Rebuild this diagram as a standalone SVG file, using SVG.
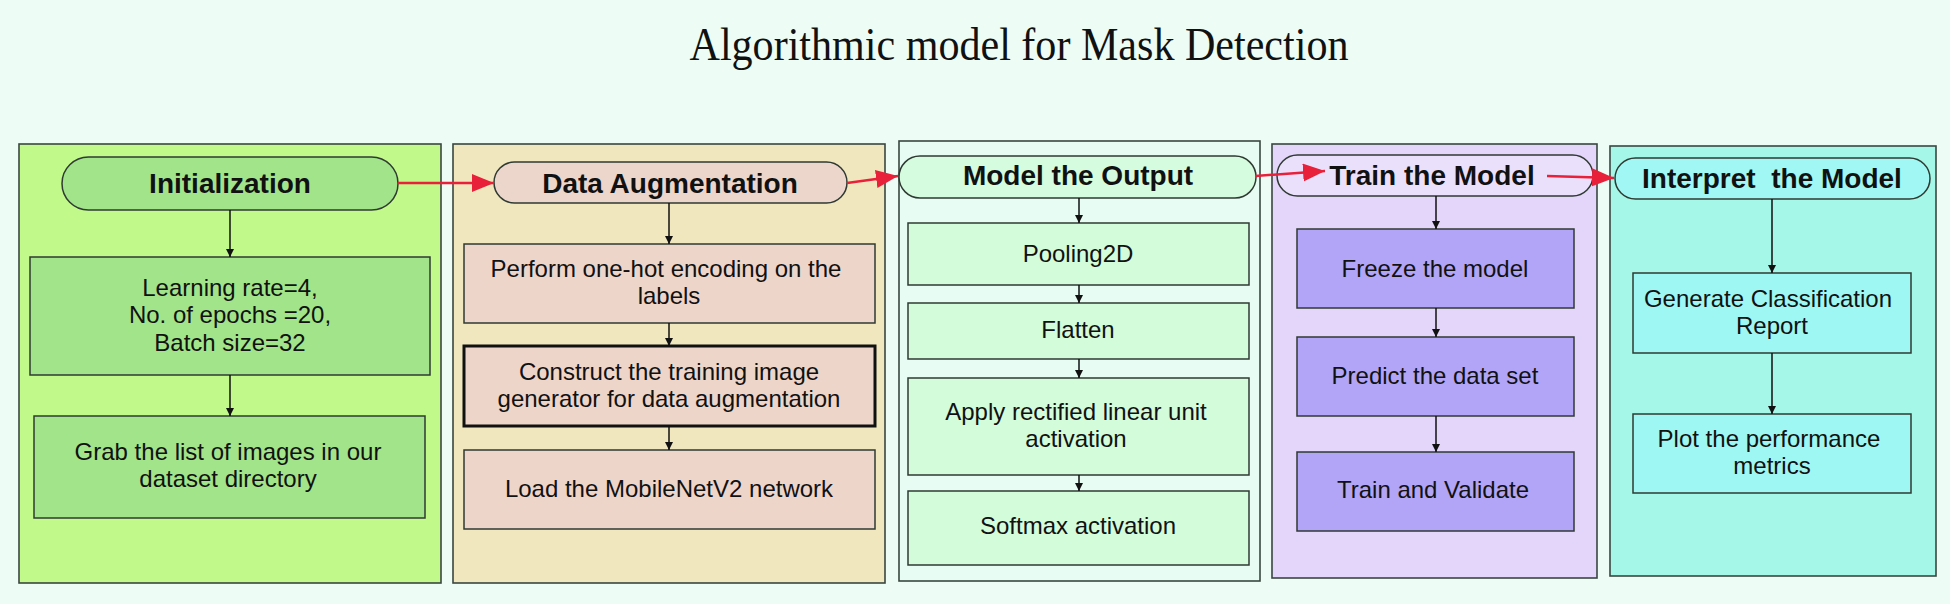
<svg xmlns="http://www.w3.org/2000/svg" width="1950" height="604" viewBox="0 0 1950 604">
<defs>
<marker id="ah" markerUnits="userSpaceOnUse" markerWidth="9" markerHeight="8" refX="8" refY="4" orient="auto"><path d="M0,0 L8,4 L0,8 z" fill="#111"/></marker>
<marker id="rh" markerUnits="userSpaceOnUse" markerWidth="24" markerHeight="20" refX="22" refY="9" orient="auto"><path d="M0,0 L22,9 L0,18 z" fill="#e8203a"/></marker>
<style>
.panel{stroke:#3a4640;stroke-width:1.6}
.pill,.box{stroke:#2f3a33;stroke-width:1.5}
.hd{font-family:"Liberation Sans",Arial,sans-serif;font-weight:bold;font-size:28px;fill:#111;text-anchor:middle}
.tx{font-family:"Liberation Sans",Arial,sans-serif;font-size:24px;fill:#111;text-anchor:middle}
.ar{stroke:#111;stroke-width:1.5;fill:none;marker-end:url(#ah)}
.ra{stroke:#e8203a;stroke-width:2.5;fill:none;marker-end:url(#rh)}
</style>
</defs>
<rect x="0" y="0" width="1950" height="604" fill="#edfdf6"/>
<text x="1019" y="60" font-family="Liberation Serif,'Times New Roman',serif" font-size="46" fill="#111" text-anchor="middle" textLength="659" lengthAdjust="spacingAndGlyphs">Algorithmic model for Mask Detection</text>

<g id="panel-init">
<rect class="panel" x="19" y="144" width="422" height="439" fill="#c1f98a"/>
<g id="init-head"><rect class="pill" x="62" y="157" width="336" height="53" rx="26.5" fill="#a2e48a"/><text class="hd" x="230" y="193">Initialization</text></g>
<g id="init-params"><rect class="box" x="30" y="257" width="400" height="118" fill="#a2e48a"/><text class="tx" x="230" y="296">Learning rate=4,</text><text class="tx" x="230" y="323">No. of epochs =20,</text><text class="tx" x="230" y="351">Batch size=32</text></g>
<g id="init-grab"><rect class="box" x="34" y="416" width="391" height="102" fill="#a2e48a"/><text class="tx" x="228" y="460">Grab the list of images in our</text><text class="tx" x="228" y="487">dataset directory</text></g>
</g>

<g id="panel-aug">
<rect class="panel" x="453" y="144" width="432" height="439" fill="#f1e7be"/>
<g id="aug-head"><rect class="pill" x="494" y="162" width="353" height="41" rx="20.5" fill="#ecd6cb"/><text class="hd" x="670" y="193">Data Augmentation</text></g>
<g id="aug-onehot"><rect class="box" x="464" y="244" width="411" height="79" fill="#eed5ca"/><text class="tx" x="666" y="277">Perform one-hot encoding on the</text><text class="tx" x="669" y="304">labels</text></g>
<g id="aug-gen"><rect x="464" y="346" width="411" height="80" fill="#eed5ca" stroke="#111" stroke-width="3"/><text class="tx" x="669" y="380">Construct the training image</text><text class="tx" x="669" y="407">generator for data augmentation</text></g>
<g id="aug-load"><rect class="box" x="464" y="450" width="411" height="79" fill="#eed5ca"/><text class="tx" x="669" y="497">Load the MobileNetV2 network</text></g>
</g>

<g id="panel-model">
<rect class="panel" x="899" y="141" width="361" height="440" fill="#e7fdf3"/>
<g id="model-head"><rect class="pill" x="899" y="156" width="357" height="42" rx="21" fill="#d5fcde"/><text class="hd" x="1078" y="185" font-size="24">Model the Output</text></g>
<g id="model-pool"><rect class="box" x="908" y="223" width="341" height="62" fill="#d3fcdb"/><text class="tx" x="1078" y="262">Pooling2D</text></g>
<g id="model-flat"><rect class="box" x="908" y="303" width="341" height="56" fill="#d3fcdb"/><text class="tx" x="1078" y="338">Flatten</text></g>
<g id="model-relu"><rect class="box" x="908" y="378" width="341" height="97" fill="#d3fcdb"/><text class="tx" x="1076" y="420">Apply rectified linear unit</text><text class="tx" x="1076" y="447">activation</text></g>
<g id="model-soft"><rect class="box" x="908" y="491" width="341" height="74" fill="#d3fcdb"/><text class="tx" x="1078" y="534" font-size="23">Softmax activation</text></g>
</g>

<g id="panel-train">
<rect class="panel" x="1272" y="144" width="325" height="434" fill="#e4d6fa"/>
<g id="train-head"><rect class="pill" x="1277" y="155" width="316" height="41" rx="20.5" fill="#ebe0fb"/><text class="hd" x="1432" y="185">Train the Model</text></g>
<g id="train-freeze"><rect class="box" x="1297" y="229" width="277" height="79" fill="#b2a5f7"/><text class="tx" x="1435" y="277">Freeze the model</text></g>
<g id="train-predict"><rect class="box" x="1297" y="337" width="277" height="79" fill="#b2a5f7"/><text class="tx" x="1435" y="384">Predict the data set</text></g>
<g id="train-validate"><rect class="box" x="1297" y="452" width="277" height="79" fill="#b2a5f7"/><text class="tx" x="1433" y="498">Train and Validate</text></g>
</g>

<g id="panel-interp">
<rect class="panel" x="1610" y="146" width="326" height="430" fill="#a5f8e8"/>
<g id="interp-head"><rect class="pill" x="1615" y="158" width="315" height="41" rx="20.5" fill="#a0f7f3"/><text class="hd" x="1772" y="188" xml:space="preserve">Interpret  the Model</text></g>
<g id="interp-report"><rect class="box" x="1633" y="273" width="278" height="80" fill="#9ff7f3"/><text class="tx" x="1768" y="307">Generate Classification</text><text class="tx" x="1772" y="334">Report</text></g>
<g id="interp-plot"><rect class="box" x="1633" y="414" width="278" height="79" fill="#9ff7f3"/><text class="tx" x="1769" y="447">Plot the performance</text><text class="tx" x="1772" y="474">metrics</text></g>
</g>

<g id="connectors">
<path class="ar" d="M230,210 V257"/>
<path class="ar" d="M230,375 V416"/>
<path class="ar" d="M669,203 V244"/>
<path class="ar" d="M669,323 V346"/>
<path class="ar" d="M669,426 V450"/>
<path class="ar" d="M1079,198 V223"/>
<path class="ar" d="M1079,285 V303"/>
<path class="ar" d="M1079,359 V378"/>
<path class="ar" d="M1079,475 V491"/>
<path class="ar" d="M1436,196 V229"/>
<path class="ar" d="M1436,308 V337"/>
<path class="ar" d="M1436,416 V452"/>
<path class="ar" d="M1772,199 V273"/>
<path class="ar" d="M1772,353 V414"/>
<path class="ra" d="M398,183 L494,183"/>
<path class="ra" d="M847,183 L898,176"/>
<path class="ra" d="M1255,176 L1325,171"/>
<path class="ra" d="M1547,176 L1614,178"/>
</g>
</svg>
